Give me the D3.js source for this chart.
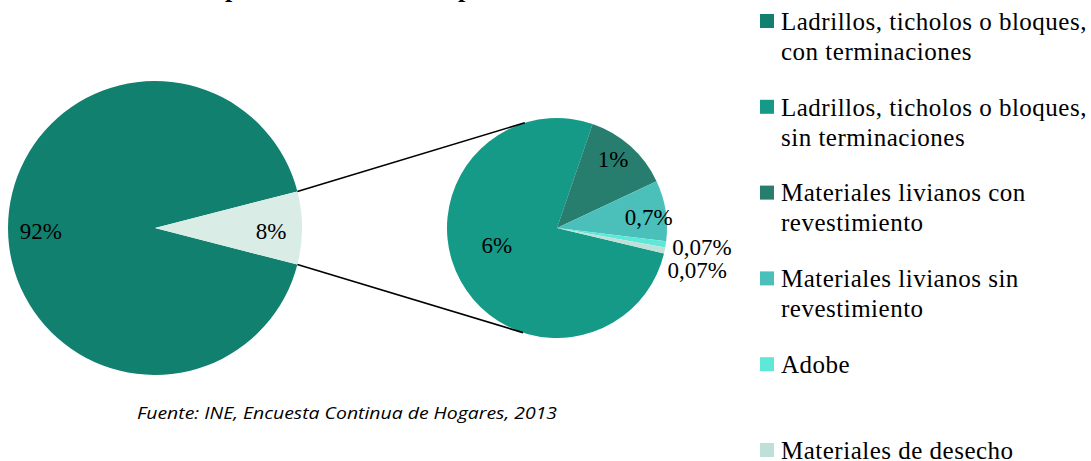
<!DOCTYPE html>
<html><head><meta charset="utf-8">
<script src="https://cdn.jsdelivr.net/npm/d3@7"></script>
<style>body{margin:0;background:#fff;}svg{display:block;}</style>
</head><body>
<svg id="c" width="1091" height="461"></svg>
<script>
const categories = ["Ladrillos, ticholos o bloques, con terminaciones","Ladrillos, ticholos o bloques, sin terminaciones","Materiales livianos con revestimiento","Materiales livianos sin revestimiento","Adobe","Materiales de desecho"];
const legendLines = [["Ladrillos, ticholos o bloques,","con terminaciones"],["Ladrillos, ticholos o bloques,","sin terminaciones"],["Materiales livianos con","revestimiento"],["Materiales livianos sin","revestimiento"],["Adobe"],["Materiales de desecho"]];
const colors = ["#12806f","#169a88","#277e6e","#4bc0bb","#5ee8d8","#bfe0d9"];
const mainLabels = ["Ladrillos, ticholos o bloques, con terminaciones","Otros"];
const mainValues = [92, 8];
const mainText = ["92%","8%"];
const mainColors = ["#12806f","#d9ece6"];
const subValues = [6, 1, 0.7, 0.07, 0.07];
const subText = ["6%","1%","0,7%","0,07%","0,07%"];
const title = "Material predominante en las paredes exteriores";
const source = "Fuente: INE, Encuesta Continua de Hogares, 2013";

const svg = d3.select("#c");
const serif = "'Liberation Serif','Times New Roman',serif";
const deg = Math.PI/180;

// title (cut off at top, as in the reference)
const tt = svg.append("text").attr("y", -3).attr("font-family", serif).attr("font-weight","bold").attr("font-size",22).attr("fill","#000").text(title);
{
  const i1 = title.indexOf("p"), i2 = title.indexOf("p", i1+1);
  const n = tt.node();
  const gap = n.getSubStringLength(0,i2) - n.getSubStringLength(0,i1);
  const fs = 22*233/gap;
  tt.attr("font-size", fs);
  const pre = n.getSubStringLength(0,i1);
  tt.attr("x", 225 - pre);
}

// main pie
const c1 = {x:155, y:228, r:147};
const mainSpan = mainValues[1]/d3.sum(mainValues)*2*Math.PI;
const pie1 = d3.pie().sort(null).startAngle(Math.PI/2 + mainSpan/2).endAngle(Math.PI/2 + mainSpan/2 + 2*Math.PI);
const arcs1 = pie1(mainValues);
const arc1 = d3.arc().innerRadius(0).outerRadius(c1.r);
const g1 = svg.append("g").attr("transform",`translate(${c1.x},${c1.y})`);
g1.selectAll("path").data(arcs1).join("path").attr("d",arc1).attr("fill",(d,i)=>mainColors[i]);

// sub pie
const c2 = {x:557, y:228, r:110};
const total2 = d3.sum(subValues);
const start2 = 18.9*deg - subValues[0]/total2*2*Math.PI;
const pie2 = d3.pie().sort(null).startAngle(start2).endAngle(start2 + 2*Math.PI);
const arcs2 = pie2(subValues);
const arc2 = d3.arc().innerRadius(0).outerRadius(c2.r);
const g2 = svg.append("g").attr("transform",`translate(${c2.x},${c2.y})`);
g2.selectAll("path").data(arcs2).join("path").attr("d",arc2).attr("fill",(d,i)=>colors[i+1]);

// connector lines
const pt = (c,a,f=1)=>[c.x + c.r*f*Math.sin(a), c.y - c.r*f*Math.cos(a)];
const p1t = pt(c1, Math.PI/2 - mainSpan/2), p1b = pt(c1, Math.PI/2 + mainSpan/2);
const p2t = pt(c2, -17*deg), p2b = pt(c2, 198*deg);
svg.append("line").attr("x1",p1t[0]).attr("y1",p1t[1]).attr("x2",p2t[0]).attr("y2",p2t[1]).attr("stroke","#000").attr("stroke-width",1.6);
svg.append("line").attr("x1",p1b[0]).attr("y1",p1b[1]).attr("x2",p2b[0]).attr("y2",p2b[1]).attr("stroke","#000").attr("stroke-width",1.6);

// labels
const lab = (p,dy,t)=>svg.append("text").attr("x",p[0]).attr("y",p[1]+dy).attr("text-anchor","middle").attr("font-family",serif).attr("font-size",23).attr("fill","#000").text(t);
const mainLabPos = [[0.776,270],[0.79,90]];
arcs1.forEach((d,i)=>lab(pt(c1, mainLabPos[i][1]*deg, mainLabPos[i][0]), 11, mainText[i]));
const subLabPos = [[0.57,254],[0.81,39],[0.84,83.2],[1.33,97.5],[1.33,106.7]];
arcs2.forEach((d,i)=>lab(pt(c2, subLabPos[i][1]*deg, subLabPos[i][0]), 8, subText[i]));

// legend
const lg = svg.append("g");
legendLines.forEach((lines,i)=>{
  const y0 = 14 + i*85.8;
  lg.append("rect").attr("x",760).attr("y",y0).attr("width",14).attr("height",14).attr("fill",colors[i]);
  lines.forEach((l,j)=>lg.append("text").attr("x",781).attr("y",y0+15.7+j*30).attr("font-family",serif).attr("font-size",25).attr("letter-spacing",0.5).attr("fill","#000").text(l));
});

// source
svg.append("text").attr("x",137).attr("y",419).attr("font-family","'Open Sans',Lato,sans-serif").attr("font-style","italic").attr("font-size",17).attr("textLength",420).attr("lengthAdjust","spacingAndGlyphs").attr("fill","#000").text(source);
</script>
</body></html>
